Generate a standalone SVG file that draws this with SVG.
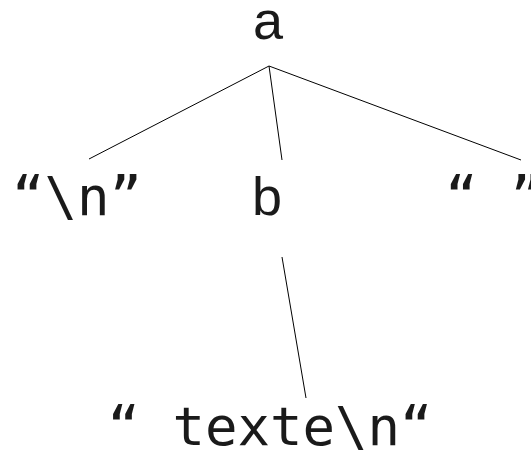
<svg xmlns="http://www.w3.org/2000/svg" width="531" height="456" viewBox="0 0 531 456">
<style>
.s{font-family:"Liberation Sans",Arial,sans-serif;font-size:54px;fill:#1a1a1a;text-anchor:middle}
.m{font-family:"DejaVu Sans Mono",monospace;font-size:54px;fill:#1a1a1a;text-anchor:middle}
.e{stroke:#000;stroke-width:1;fill:none}
</style>
<rect width="531" height="456" fill="#fff"/>
<g id="edges">
<line class="e" x1="269" y1="66" x2="89" y2="159"/>
<line class="e" x1="269" y1="66" x2="282" y2="160"/>
<line class="e" x1="269" y1="66" x2="521" y2="160"/>
<line class="e" x1="282" y1="257" x2="306" y2="398"/>
</g>
<g id="a"><text class="s" x="268" y="39">a</text></g>
<g id="nl"><text class="m" x="77" y="215" xml:space="preserve">“\n”</text></g>
<g id="b"><text class="s" x="267" y="215">b</text></g>
<g id="sp"><text class="m" x="494" y="215" xml:space="preserve">“ ”</text></g>
<g id="texte"><text class="m" x="270" y="445" xml:space="preserve">“ texte\n“</text></g>
</svg>
